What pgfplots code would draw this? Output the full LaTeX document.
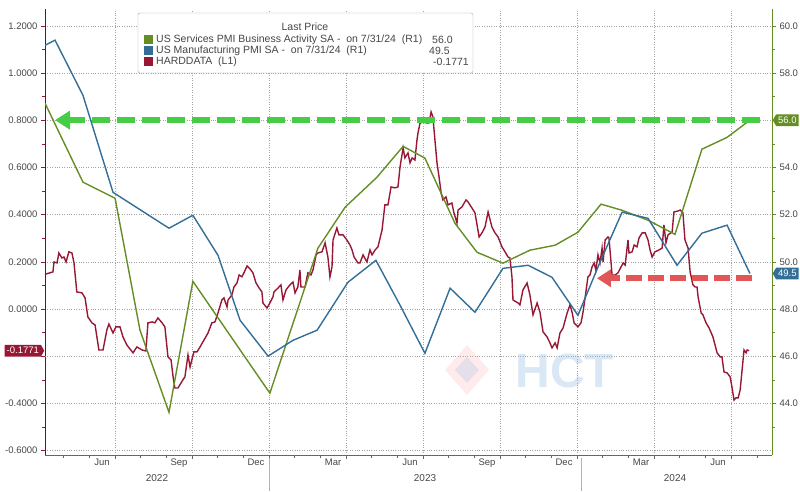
\documentclass[border=0pt]{standalone}
\usepackage{fontspec}
\setmainfont{Liberation Sans}
\usepackage{pgfplots}
\pgfplotsset{compat=1.18}
\usetikzlibrary{arrows.meta,shapes.symbols}

\definecolor{svc}{RGB}{100,142,36}
\definecolor{mfg}{RGB}{50,110,152}
\definecolor{hard}{RGB}{150,24,52}
\definecolor{arrowgreen}{RGB}{70,205,70}
\definecolor{arrowred}{RGB}{226,86,86}
\definecolor{tickgray}{RGB}{70,70,70}
\definecolor{gridgray}{RGB}{165,165,165}
\definecolor{wmblue}{RGB}{150,185,225}

\pgfplotsset{
  base/.style={
    scale only axis, width=727pt, height=446pt,
    xmin=3.43, xmax=31.75,
    tick align=outside,
    major tick length=4pt, minor tick length=2.5pt,
    tick label style={font=\fontsize{9.5}{10}\selectfont, text=tickgray},
    /pgf/number format/assume math mode=true,
  }
}

\begin{document}
\begin{tikzpicture}
\path[use as bounding box] (-45pt,-36pt) rectangle (755pt,455pt);

% left axis: HARDDATA
\begin{axis}[base,
  ymin=-0.619, ymax=1.271,
  axis x line*=bottom, axis y line*=left,
  x axis line style={-, gray!80!black},
  y axis line style={-, hard!70!black},
  ytick={-0.6,-0.4,0,0.2,0.4,0.6,0.8,1.0,1.2}, minor ytick={-0.5,-0.3,...,1.1},
  extra y ticks={-0.2}, extra y tick labels={},
  yticklabel style={/pgf/number format/.cd, fixed, fixed zerofill, precision=4},
  ytick style={hard},
  ymajorgrids, xmajorgrids,
  grid style={gridgray, dotted},
  extra y tick style={grid=major},
  xtick={6.15,9.15,...,30.15}, xticklabels={},
  minor xtick={4.15,5.15,...,31.15},
  xtick style={gray!80!black},
  extra x ticks={5.65,8.65,...,29.65},
  extra x tick labels={Jun,Sep,Dec,Mar,Jun,Sep,Dec,Mar,Jun},
  extra x tick style={major tick length=0pt, grid=none},
]
\addplot[hard, line width=1.4pt] coordinates {
(3.35,0.144)(3.62,0.153)(3.74,0.157)(3.78,0.199)(3.90,0.195)(3.97,0.237)(4.09,0.216)(4.17,0.220)(4.25,0.199)(4.36,0.242)(4.48,0.237)(4.56,0.195)(4.67,0.072)(4.87,0.068)(4.99,0.047)(5.10,-0.034)(5.26,-0.059)(5.38,-0.068)(5.53,-0.174)(5.69,-0.174)(5.84,-0.089)(5.92,-0.064)(6.08,-0.102)(6.19,-0.076)(6.35,-0.076)(6.47,-0.119)(6.62,-0.153)(6.86,-0.186)(7.01,-0.161)(7.21,-0.174)(7.36,-0.178)(7.44,-0.059)(7.60,-0.055)(7.71,-0.059)(7.83,-0.038)(7.99,-0.059)(8.10,-0.076)(8.22,-0.203)(8.34,-0.216)(8.42,-0.288)(8.49,-0.335)(8.61,-0.335)(8.80,-0.301)(8.88,-0.288)(9.00,-0.195)(9.08,-0.246)(9.23,-0.182)(9.35,-0.182)(9.47,-0.161)(9.58,-0.140)(9.78,-0.102)(9.93,-0.059)(10.05,-0.055)(10.17,-0.017)(10.32,0.038)(10.40,0.047)(10.52,0.008)(10.56,0.038)(10.71,0.059)(10.79,0.093)(10.91,0.110)(10.99,0.144)(11.10,0.136)(11.18,0.153)(11.30,0.182)(11.42,0.169)(11.53,0.153)(11.65,0.110)(11.77,0.089)(11.88,0.072)(11.92,0.025)(12.08,0.004)(12.19,0.025)(12.31,0.051)(12.35,0.072)(12.51,0.089)(12.62,0.102)(12.70,0.038)(12.82,0.081)(12.97,0.102)(13.09,0.114)(13.17,0.068)(13.28,0.093)(13.36,0.165)(13.40,0.093)(13.56,0.093)(13.67,0.153)(13.79,0.144)(13.87,0.165)(13.99,0.229)(14.06,0.237)(14.22,0.242)(14.34,0.280)(14.45,0.220)(14.53,0.136)(14.61,0.178)(14.65,0.292)(14.80,0.343)(14.88,0.314)(15.04,0.314)(15.19,0.292)(15.31,0.271)(15.39,0.250)(15.47,0.220)(15.62,0.195)(15.70,0.195)(15.82,0.229)(15.97,0.199)(16.09,0.250)(16.17,0.229)(16.29,0.250)(16.40,0.263)(16.56,0.335)(16.67,0.441)(16.79,0.441)(16.91,0.517)(17.06,0.513)(17.18,0.517)(17.26,0.602)(17.38,0.682)(17.45,0.640)(17.57,0.661)(17.65,0.619)(17.73,0.640)(17.84,0.631)(17.92,0.716)(17.96,0.746)(18.04,0.788)(18.16,0.792)(18.31,0.788)(18.39,0.788)(18.47,0.835)(18.54,0.814)(18.62,0.716)(18.70,0.619)(18.78,0.559)(18.86,0.492)(18.93,0.462)(19.05,0.475)(19.13,0.441)(19.28,0.449)(19.36,0.407)(19.48,0.364)(19.52,0.419)(19.67,0.432)(19.83,0.462)(19.91,0.453)(20.06,0.428)(20.18,0.407)(20.34,0.305)(20.45,0.322)(20.57,0.347)(20.69,0.411)(20.84,0.347)(20.96,0.322)(21.08,0.305)(21.23,0.263)(21.35,0.242)(21.47,0.220)(21.54,0.216)(21.62,0.136)(21.66,0.038)(21.86,0.025)(21.93,0.017)(22.05,0.081)(22.21,0.110)(22.32,0.059)(22.44,-0.025)(22.60,0.025)(22.71,-0.013)(22.83,-0.097)(22.99,-0.119)(23.10,-0.144)(23.18,-0.165)(23.30,-0.144)(23.38,-0.165)(23.49,-0.102)(23.61,-0.081)(23.77,-0.017)(23.88,0.017)(23.96,-0.013)(24.04,-0.059)(24.19,-0.076)(24.31,-0.059)(24.39,-0.013)(24.50,0.072)(24.58,0.136)(24.66,0.144)(24.74,0.178)(24.82,0.195)(24.89,0.165)(24.97,0.229)(25.05,0.195)(25.13,0.258)(25.17,0.199)(25.25,0.292)(25.36,0.305)(25.40,0.301)(25.52,0.144)(25.64,0.144)(25.75,0.153)(25.87,0.178)(25.95,0.195)(26.03,0.186)(26.14,0.292)(26.18,0.237)(26.30,0.242)(26.38,0.271)(26.49,0.263)(26.57,0.301)(26.69,0.322)(26.81,0.322)(26.92,0.292)(27.00,0.250)(27.08,0.220)(27.19,0.242)(27.35,0.250)(27.47,0.258)(27.54,0.356)(27.62,0.280)(27.70,0.314)(27.86,0.326)(27.93,0.411)(28.09,0.415)(28.17,0.419)(28.28,0.407)(28.36,0.292)(28.48,0.258)(28.56,0.157)(28.67,0.102)(28.75,0.093)(28.83,0.093)(28.87,0.051)(28.99,-0.017)(29.06,-0.025)(29.18,-0.059)(29.30,-0.081)(29.45,-0.119)(29.61,-0.186)(29.73,-0.203)(29.80,-0.203)(29.88,-0.267)(30.00,-0.271)(30.12,-0.288)(30.19,-0.331)(30.27,-0.386)(30.35,-0.377)(30.43,-0.377)(30.51,-0.343)(30.66,-0.174)(30.74,-0.186)(30.78,-0.174)(30.86,-0.1771)
};
\coordinate (hardtag) at (axis cs:3.43,-0.1771);
\end{axis}

% right axis: PMIs
\begin{axis}[base,
  ymin=41.81, ymax=60.71,
  axis x line=none, axis y line*=right,
  y axis line style={-, svc},
  ytick={44,46,48,50,52,54,58,60}, minor ytick={43,45,...,59},
  extra y ticks={56}, extra y tick labels={},
  ytick style={svc},
  yticklabel style={/pgf/number format/.cd, fixed, fixed zerofill, precision=1},
]
% services PMI
\addplot[svc, line width=1.4pt] coordinates {
(3.43,56.72)(4.91,53.37)(6.16,52.69)(7.13,47.10)(8.26,43.62)(9.19,49.17)(12.19,44.43)(14.06,50.57)(15.12,52.31)(16.36,53.58)(17.38,54.89)(18.23,54.39)(19.40,51.63)(20.26,50.40)(21.27,49.94)(22.32,50.49)(23.30,50.70)(24.19,51.25)(25.09,52.44)(25.91,52.18)(26.92,51.76)(27.97,51.16)(29.02,54.77)(30.00,55.27)(30.89,56.0)
};
% manufacturing PMI
\addplot[mfg, line width=1.4pt] coordinates {
(3.43,59.17)(3.82,59.39)(4.91,57.05)(6.08,52.94)(7.17,52.18)(8.26,51.42)(9.19,51.97)(10.17,50.27)(11.03,47.52)(12.12,46.00)(13.09,46.67)(14.03,47.10)(15.23,49.13)(16.32,50.06)(17.26,48.16)(18.23,46.12)(19.21,48.88)(20.18,47.86)(21.27,49.72)(22.25,49.85)(23.18,49.34)(24.19,47.73)(25.05,49.98)(25.91,52.10)(26.92,51.84)(28.05,49.85)(29.02,51.21)(30.00,51.55)(30.89,49.5)
};
\draw[arrowgreen, line width=6.5pt, dash pattern=on 18pt off 7pt,
  -{Triangle[length=15pt,width=18pt]}] (axis cs:31.3,56.0) -- (axis cs:3.82,56.0);
\draw[arrowred, line width=6pt, dash pattern=on 16pt off 6pt,
  -{Triangle[length=14pt,width=17pt]}] (axis cs:30.97,49.3) -- (axis cs:24.93,49.3);
\coordinate (svctag) at (axis cs:31.75,56.0);
\coordinate (mfgtag) at (axis cs:31.75,49.5);
\end{axis}

% value tags
\node[signal, signal to=west, signal pointer angle=120, fill=svc, text=white,
  inner xsep=2pt, inner ysep=2.5pt, font=\fontsize{9.5}{10}\selectfont, anchor=west] at ([xshift=0.5pt]svctag) {56.0};
\node[signal, signal to=west, signal pointer angle=120, fill=mfg, text=white,
  inner xsep=2pt, inner ysep=2.5pt, font=\fontsize{9.5}{10}\selectfont, anchor=west] at ([xshift=0.5pt]mfgtag) {49.5};
\node[signal, signal to=east, signal pointer angle=120, fill=hard, text=white,
  inner xsep=2pt, inner ysep=2.5pt, font=\fontsize{9.5}{10}\selectfont, anchor=east] at ([xshift=-0.5pt]hardtag) {-0.1771};

% year row
\foreach \xx in {224,536} \draw[gray!60] (\xx pt,-3pt) -- (\xx pt,-36pt);
\node[font=\fontsize{10}{11}\selectfont, text=tickgray] at (112pt,-23pt) {2022};
\node[font=\fontsize{10}{11}\selectfont, text=tickgray] at (380pt,-23pt) {2023};
\node[font=\fontsize{10}{11}\selectfont, text=tickgray] at (630pt,-23pt) {2024};

% legend
\draw[gray!70, rounded corners=2pt, fill=white] (93pt,382pt) rectangle (428pt,442pt);
\node[font=\fontsize{10.5}{11}\selectfont, text=tickgray] at (260pt,428pt) {Last Price};
\fill[svc] (99pt,411pt) rectangle (108pt,420pt);
\fill[mfg] (99pt,400pt) rectangle (108pt,409pt);
\fill[hard] (99pt,389pt) rectangle (108pt,398pt);
\begin{scope}[every node/.style={font=\fontsize{10.5}{11}\selectfont, text=tickgray, inner sep=0pt}]
\node[anchor=west] at (111pt,415.5pt) {US Services PMI Business Activity SA -\ \ on 7/31/24\ \ (R1)};
\node[anchor=west] at (111pt,404.5pt) {US Manufacturing PMI SA -\ \ on 7/31/24\ \ (R1)};
\node[anchor=west] at (111pt,393.5pt) {HARDDATA\ \ (L1)};
\node[anchor=west] at (387pt,415.5pt) {56.0};
\node[anchor=west] at (384pt,404.5pt) {49.5};
\node[anchor=west] at (388pt,393.5pt) {-0.1771};
\end{scope}

% watermark
\fill[red!35, opacity=0.22] (400pt,85pt) -- (422pt,110pt) -- (444pt,85pt) -- (422pt,60pt) -- cycle;
\fill[wmblue, opacity=0.25] (410pt,85pt) -- (422pt,98pt) -- (434pt,85pt) -- (422pt,72pt) -- cycle;
\node[font=\fontsize{48}{48}\selectfont\bfseries, text=wmblue, opacity=0.35] at (520pt,84pt) {HCT};
\end{tikzpicture}
\end{document}
